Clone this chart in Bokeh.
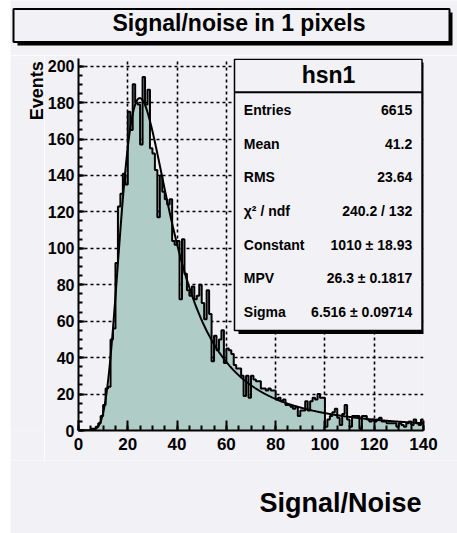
import math
import numpy as np
from bokeh.plotting import figure
from bokeh.models import Range1d, SingleIntervalTicker, Spacer
from bokeh.layouts import column, row
from bokeh.core.properties import value
from bokeh.embed import file_html
from bokeh.resources import INLINE

# ---------------- data ----------------
title_text = "Signal/noise in 1 pixels"
x_title = "Signal/Noise"
y_title = "Events"
hist_name = "hsn1"

bin_edges = list(range(0, 141))
counts = [
    0, 0, 0, 0, 0, 1, 1, 2, 4, 8,
    14, 23, 24, 50, 56, 92, 123, 130, 141, 135,
    175, 165, 190, 180, 179, 157, 194, 179, 187, 155,
    152, 143, 117, 140, 131, 127, 124, 127, 104, 102,
    104, 72, 105, 86, 77, 74, 79, 72, 74, 80,
    70, 61, 77, 64, 38, 52, 44, 50, 55, 37,
    45, 44, 42, 36, 34, 34, 30, 19, 30, 18,
    30, 28, 27, 27, 23, 23, 22, 23, 22, 22,
    17, 18, 16, 17, 14, 14, 13, 12, 13, 8,
    11, 11, 16, 11, 16, 18, 17, 20, 18, 18,
    2, 6, 8, 10, 12, 7, 3, 9, 14, 6,
    2, 8, 8, 8, 1, 8, 8, 6, 5, 6,
    5, 6, 7, 5, 5, 4, 4, 4, 4, 2,
    4, 3, 2, 4, 5, 3, 6, 4, 3, 6,
]

stat_labels = ["Entries", "Mean", "RMS", "χ² / ndf", "Constant", "MPV", "Sigma"]
stat_values = ["6615", "41.2", "23.64", "240.2 / 132",
               "1010 ± 18.93", "26.3 ± 0.1817", "6.516 ± 0.09714"]

fit_constant = 1010.0
fit_mpv = 26.3
fit_sigma = 6.516

x_tick_interval = 20
y_tick_interval = 20
x_max = 140
y_max = 204.2

# ---------------- style ----------------
BG = "#f2f1f5"
FILL = "#b0ccc6"
FONT = "Liberation Sans"


def denlan(v):
    """CERNLIB DENLAN Landau density (as used by ROOT's TMath::Landau)."""
    p1 = [0.4259894875, -0.1249762550, 0.03984243700, -0.006298287635, 0.001511162253]
    q1 = [1.0, -0.3388260629, 0.09594393323, -0.01608042283, 0.003778942063]
    p2 = [0.1788541609, 0.1173957403, 0.01488850518, -0.001394989411, 0.0001283617211]
    q2 = [1.0, 0.7428795082, 0.3153932961, 0.06694219548, 0.008790609714]
    p3 = [0.1788544503, 0.09359161662, 0.006325387654, 0.00006611667319, -0.000002031049101]
    q3 = [1.0, 0.6097809921, 0.2560616665, 0.04746722384, 0.006957301675]
    p4 = [0.9874054407, 118.6723273, 849.2794360, -743.7792444, 427.0262186]
    q4 = [1.0, 106.8615961, 337.6496214, 2016.712389, 1597.063511]
    p5 = [1.003675074, 167.5702434, 4789.711289, 21217.86767, -22324.94910]
    q5 = [1.0, 156.9424537, 3745.310488, 9834.698876, 66924.28357]
    a1 = [0.04166666667, -0.01996527778, 0.02709538966]

    def poly(c, t):
        return c[0] + (c[1] + (c[2] + (c[3] + c[4] * t) * t) * t) * t

    if v < -5.5:
        u = math.exp(v + 1.0)
        if u < 1e-10:
            return 0.0
        ue = math.exp(-1.0 / u)
        us = math.sqrt(u)
        return 0.3989422803 * (ue / us) * (1 + (a1[0] + (a1[1] + a1[2] * u) * u) * u)
    if v < -1:
        u = math.exp(-v - 1)
        return math.exp(-u) * math.sqrt(u) * poly(p1, v) / poly(q1, v)
    if v < 1:
        return poly(p2, v) / poly(q2, v)
    if v < 5:
        return poly(p3, v) / poly(q3, v)
    if v < 12:
        u = 1.0 / v
        return u * u * poly(p4, u) / poly(q4, u)
    u = 1.0 / v
    return u * u * poly(p5, u) / poly(q5, u)


fit_x = np.linspace(0, x_max, 561)
fit_y = [fit_constant * denlan((xx - fit_mpv) / fit_sigma) for xx in fit_x]


def strip(width, height, x0, x1, y0, y1):
    f = figure(width=width, height=height, x_range=Range1d(x0, x1), y_range=Range1d(y0, y1),
               output_backend="svg", toolbar_location=None, min_border=0,
               x_axis_location=None, y_axis_location=None,
               background_fill_color=BG, border_fill_color=BG, outline_line_color=None)
    f.grid.visible = False
    return f


# ---------------- title strip (coords: page x, -page y) ----------------
tf = strip(447, 55, 10, 457, -55, 0)
tf.quad(left=[17], right=[452], top=[-12], bottom=[-45], fill_color="black", line_color=None)
tf.quad(left=[13], right=[449], top=[-8.5], bottom=[-41.5], fill_color=BG,
        line_color="black", line_width=2)
tf.text(x=[238.5], y=[-22.5], text=[title_text], text_align="center", text_baseline="middle",
        text_font=value(FONT), text_font_style="bold", text_font_size="23px", text_color="black")

# ---------------- y title strip ----------------
ef = strip(34, 405, 10, 44, -460, -55)
ef.text(x=[36.5], y=[-58], text=[y_title], angle=math.pi / 2, text_align="right",
        text_baseline="middle", text_font=value(FONT), text_font_style="bold",
        text_font_size="18px", text_color="black")

# ---------------- main plot ----------------
p = figure(width=413, height=405, x_range=Range1d(0, x_max), y_range=Range1d(0, y_max),
           output_backend="svg", toolbar_location=None,
           min_border_left=34, min_border_right=34, min_border_top=3, min_border_bottom=30,
           background_fill_color=BG, border_fill_color=BG, outline_line_color=None)

xt = SingleIntervalTicker(interval=x_tick_interval, num_minor_ticks=4)
yt = SingleIntervalTicker(interval=y_tick_interval, num_minor_ticks=4)
p.xaxis.ticker = xt
p.yaxis.ticker = yt
p.xgrid.ticker = xt
p.ygrid.ticker = yt

for ax, mj, mn in ((p.xaxis, 10, 5), (p.yaxis, 6, 4)):
    ax.axis_line_width = 2
    ax.axis_line_color = "black"
    ax.major_tick_in = mj
    ax.major_tick_out = 0
    ax.minor_tick_in = mn
    ax.minor_tick_out = 0
    ax.major_tick_line_width = 2
    ax.minor_tick_line_width = 2
    ax.major_tick_line_color = "black"
    ax.minor_tick_line_color = "black"
    ax.major_label_text_font = FONT
    ax.major_label_text_font_style = "bold"
    ax.major_label_text_color = "black"
p.xaxis.major_label_text_font_size = "17px"
p.yaxis.major_label_text_font_size = "16px"
p.xaxis.major_label_standoff = 7
p.yaxis.major_label_standoff = 4

for g in (p.xgrid, p.ygrid):
    g.grid_line_color = "black"
    g.grid_line_dash = "3 3"
    g.grid_line_width = 1.6

p.varea_step(x=bin_edges, y1=[0] * len(bin_edges), y2=counts + [0], step_mode="after",
             fill_color=FILL)
p.step(x=bin_edges, y=counts + [0], mode="after", line_color="black", line_width=2)
p.line(x=fit_x, y=fit_y, line_color="black", line_width=2)

# stats box (pixel overlay ranges matching the frame: page x, -page y)
p.extra_x_ranges = {"px": Range1d(78, 423)}
p.extra_y_ranges = {"px": Range1d(-430, -58)}
kw = dict(x_range_name="px", y_range_name="px")
p.quad(left=[238], right=[425], top=[-62], bottom=[-333.5], fill_color="black", line_color=None, **kw)
p.quad(left=[234], right=[421.5], top=[-58.7], bottom=[-330], fill_color=BG,
       line_color="black", line_width=1.5, **kw)
p.segment(x0=[234], y0=[-91.7], x1=[421.5], y1=[-91.7], line_color="black", line_width=2, **kw)
p.text(x=[328], y=[-74.5], text=[hist_name], text_align="center", text_baseline="middle",
       text_font=value(FONT), text_font_style="bold", text_font_size="23px",
       text_color="black", **kw)
row_y = [-(109.3 + i * 33.7) for i in range(len(stat_labels))]
p.text(x=[243.3] * len(stat_labels), y=row_y, text=stat_labels, text_align="left",
       text_baseline="middle", text_font=value(FONT), text_font_style="bold",
       text_font_size="14px", text_color="black", **kw)
p.text(x=[411.7] * len(stat_values), y=row_y, text=stat_values, text_align="right",
       text_baseline="middle", text_font=value(FONT), text_font_style="bold",
       text_font_size="14px", text_color="black", **kw)

# ---------------- x title strip ----------------
bf = strip(447, 73, 10, 457, -533, -460)
bf.text(x=[421], y=[-502], text=[x_title], text_align="right", text_baseline="middle",
        text_font=value(FONT), text_font_style="bold", text_font_size="27px", text_color="black")

layout = row(Spacer(width=10, height=533),
             column(tf, row(ef, p, spacing=0), bf, spacing=0), spacing=0)

open("out.html", "w").write(file_html(layout, INLINE))
